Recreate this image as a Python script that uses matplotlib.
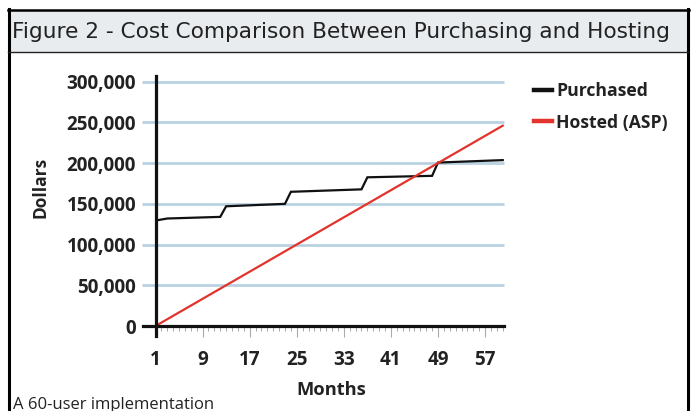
import matplotlib
matplotlib.use("Agg")
import matplotlib.pyplot as plt
from matplotlib.patches import Rectangle
from matplotlib.lines import Line2D
from matplotlib.ticker import FuncFormatter

# ---- data ----
title = "Figure 2 - Cost Comparison Between Purchasing and Hosting"
caption = "A 60-user implementation"
months_purchased = [1, 3, 12, 13, 23, 24, 36, 37, 48, 49, 60]
purchased = [129500, 132000, 134000, 147000, 150000, 164800, 167800, 182600, 184400, 200700, 203700]
months_hosted = [1, 60]
hosted = [0, 246000]
xtick_months = [1, 9, 17, 25, 33, 41, 49, 57]
ytick_values = [0, 50000, 100000, 150000, 200000, 250000, 300000]
series_names = ["Purchased", "Hosted (ASP)"]

W, H = 696, 411
fig = plt.figure(figsize=(W / 100, H / 100), dpi=100)

def fx(x):
    return x / W

def fy(y):
    return 1 - y / H

CHART_FONT = ["Open Sans", "DejaVu Sans"]

# ---- frame and title band ----
fig.patches.append(Rectangle((fx(8), fy(52)), fx(688) - fx(8), fy(10) - fy(52),
                             transform=fig.transFigure, facecolor="#e8ecef",
                             edgecolor="none", zorder=0))
fig.lines.append(Line2D([fx(8.5), fx(8.5)], [fy(9), 0], transform=fig.transFigure,
                        color="black", lw=2.2))
fig.lines.append(Line2D([fx(687.5), fx(687.5)], [fy(9), 0], transform=fig.transFigure,
                        color="black", lw=2.2))
fig.lines.append(Line2D([fx(7.5), fx(689)], [fy(10), fy(10)], transform=fig.transFigure,
                        color="black", lw=1.8))
fig.lines.append(Line2D([fx(8), fx(688)], [fy(52), fy(52)], transform=fig.transFigure,
                        color="#222222", lw=1.0))
fig.text(fx(12), fy(32), title, fontsize=15.6, family="DejaVu Sans",
         color="#222222", va="center", ha="left")
fig.text(fx(13), fy(408.5), caption, fontsize=12, family=CHART_FONT,
         color="#222222", va="baseline", ha="left")

# ---- axes ----
x0, x1 = 1, 60.3
y0, y1 = 0, 307000
ax = fig.add_axes([fx(155.5), fy(326), fx(504.5) - fx(155.5), fy(76) - fy(326)])
ax.set_xlim(x0, x1)
ax.set_ylim(y0, y1)
px_per_month = (504.5 - 155.5) / (x1 - x0)

ax.hlines(ytick_values[1:], x0 - 13.5 / px_per_month, x1, colors="#b9d2e2",
          lw=2.0, clip_on=False, zorder=1)

ax.plot(months_purchased, purchased, color="#111111", lw=1.6, zorder=3,
        label=series_names[0], solid_joinstyle="miter")
ax.plot(months_hosted, hosted, color="#e2332c", lw=1.6, zorder=3,
        label=series_names[1])

for s in ["top", "right"]:
    ax.spines[s].set_visible(False)
ax.spines["left"].set_linewidth(2.3)
ax.spines["bottom"].set_linewidth(2.3)
ax.spines["left"].set_color("#111111")
ax.spines["bottom"].set_color("#111111")
ax.spines["left"].set_bounds(-10 / 250 * y1, y1)
ax.spines["bottom"].set_bounds(x0 - 12.5 / px_per_month, x1)
ax.spines["left"].set_zorder(4)
ax.spines["bottom"].set_zorder(4)

ax.set_yticks(ytick_values)
ax.yaxis.set_major_formatter(FuncFormatter(lambda v, p: f"{int(v):,}"))
ax.tick_params(axis="y", length=0, pad=14)
ax.set_xticks(xtick_months)
ax.set_xticks(list(range(1, 61)), minor=True)
ax.tick_params(axis="x", which="major", length=8, width=0.8, color="#aaaaaa", pad=9)
ax.tick_params(axis="x", which="minor", length=3.8, width=0.6, color="#999999")
for lab in ax.get_xticklabels() + ax.get_yticklabels():
    lab.set_fontfamily(CHART_FONT)
    lab.set_fontweight("bold")
    lab.set_fontsize(13.6)
    lab.set_color("#222222")

ax.set_xlabel("Months", fontsize=13.2, fontweight="bold", family=CHART_FONT, color="#222222")
ax.xaxis.set_label_coords((331 - 155.5) / 349, -(390 - 326) / 250)
ax.xaxis.label.set_va("center")
ax.set_ylabel("Dollars", fontsize=12.5, fontweight="bold", family=CHART_FONT, color="#222222")
ax.yaxis.set_label_coords((40.5 - 155.5) / 349, (326 - 187.5) / 250)
ax.yaxis.label.set_va("center")

leg = ax.legend(loc="center left", bbox_to_anchor=(fx(534), fy(107)),
                bbox_transform=fig.transFigure, frameon=False,
                handlelength=1.0, handletextpad=0.25, labelspacing=0.75,
                borderpad=0, borderaxespad=0,
                prop={"family": CHART_FONT, "weight": "bold", "size": 12.7})
for h in leg.get_lines():
    h.set_linewidth(3.2)
for t in leg.get_texts():
    t.set_color("#222222")

fig.savefig("out.png", dpi=100)
